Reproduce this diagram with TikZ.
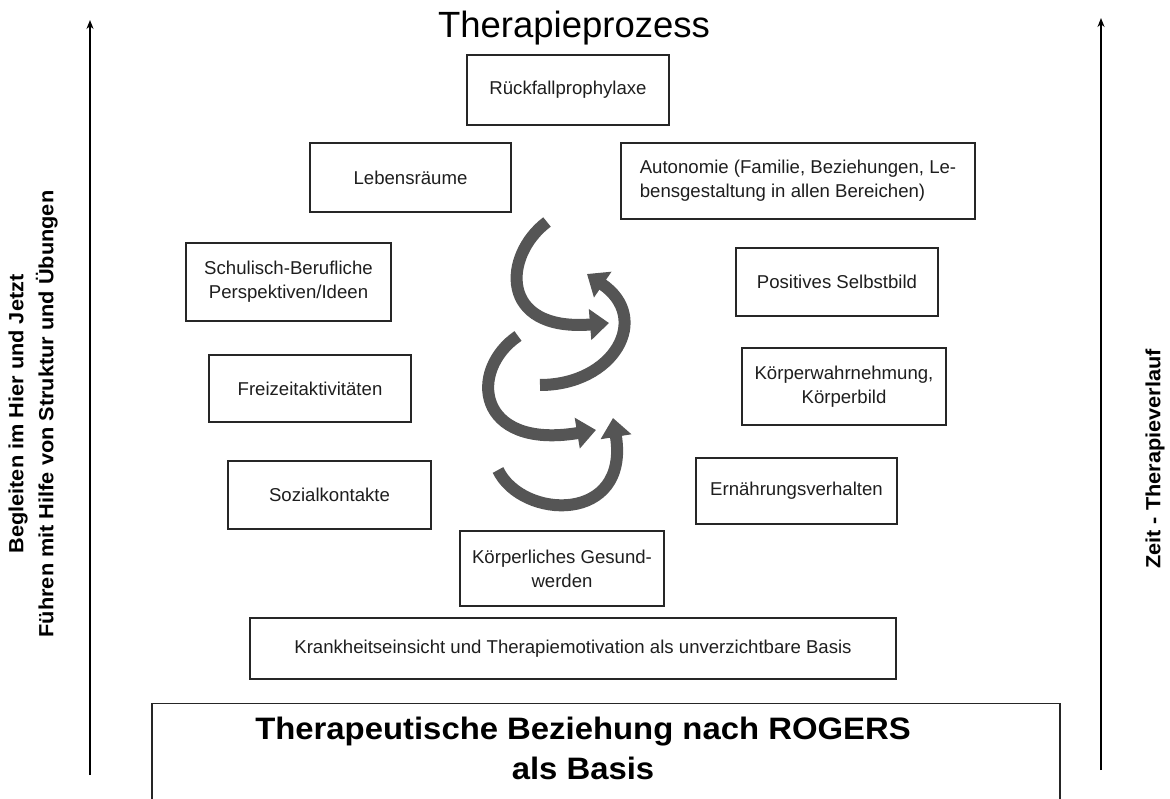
\documentclass[tikz,border=0pt]{standalone}
\usepackage{fontspec}
\setmainfont{Liberation Sans}
\newfontfamily\widesans[FakeStretch=1.06]{Liberation Sans}
\usetikzlibrary{arrows.meta}
\definecolor{spiralgray}{HTML}{555555}
\definecolor{boxtext}{HTML}{1E1E1E}

\begin{document}
\begin{tikzpicture}[x=1pt, y=-1pt]
	\tikzstyle{stepbox}=[
	draw=black!85,
	line width=1.1pt,
	rectangle,
	text=boxtext,
	font=\fontsize{18.6}{24}\selectfont,
	align=center,
	inner sep=2pt
	]
	\tikzstyle{sidetext}=[
	rotate=90,
	align=center,
	font=\widesans\bfseries\fontsize{20.5}{30}\selectfont
	]
	\tikzstyle{timeline}=[
	line width=2pt,
	-{Stealth[length=9pt,width=7pt]}
	]
	\tikzstyle{spiralarrow}=[
	draw=spiralgray,
	line width=12pt,
	-{Triangle[length=19pt,width=30pt]}
	]
	\useasboundingbox (0,0) rectangle (1170,799);
	\clip (0,0) rectangle (1170,799);
	%
	\node[font=\fontsize{36.5}{40}\selectfont] (title) at (574,28) {Therapieprozess};
	%
	\node[stepbox, minimum width=202pt, minimum height=70pt] (rueck) at (568,90) {R\"uckfallprophylaxe};
	\node[stepbox, minimum width=201pt, minimum height=69pt] (leben) at (410.5,177.5) {Lebensr\"aume};
	\node[stepbox, minimum width=354pt, minimum height=76pt, align=left] (auto) at (798,181) {Autonomie (Familie, Beziehungen, Le-\\bensgestaltung in allen Bereichen)};
	\node[stepbox, minimum width=205pt, minimum height=78pt] (schul) at (288.5,282) {Schulisch-Berufliche\\Perspektiven/Ideen};
	\node[stepbox, minimum width=202pt, minimum height=68pt] (selbst) at (837,282) {Positives Selbstbild};
	\node[stepbox, minimum width=202pt, minimum height=67pt] (frei) at (310,388.5) {Freizeitaktivit\"aten};
	\node[stepbox, minimum width=204pt, minimum height=77pt] (koerper) at (844,386.5) {K\"orperwahrnehmung,\\K\"orperbild};
	\node[stepbox, minimum width=203pt, minimum height=68pt] (sozial) at (329.5,495) {Sozialkontakte};
	\node[stepbox, minimum width=201pt, minimum height=66pt] (ernaehr) at (796.5,491) {Ern\"ahrungsverhalten};
	\node[stepbox, minimum width=204pt, minimum height=75pt] (gesund) at (562,568.5) {K\"orperliches Gesund-\\werden};
	\node[stepbox, minimum width=646pt, minimum height=61pt] (krank) at (573,648.5) {Krankheitseinsicht und Therapiemotivation als unverzichtbare Basis};
	%
	\node[stepbox, minimum width=908pt, minimum height=120pt, anchor=north] (basis) at (606,703) {};
	\node[font=\widesans\bfseries\fontsize{31}{40}\selectfont, align=center] (basistext) at (583,748) {Therapeutische Beziehung nach ROGERS\\als Basis};
	%
	\node[sidetext] (begleiten) at (33,414) {Begleiten im Hier und Jetzt\\F\"uhren mit Hilfe von Struktur und \"Ubungen};
	\node[sidetext] (zeit) at (1155,459) {Zeit - Therapieverlauf};
	\coordinate (leftlow) at (90,775);
	\coordinate (lefttop) at (90,20);
	\coordinate (rightlow) at (1101,770);
	\coordinate (righttop) at (1101,18);
	\draw[timeline] (leftlow) -- (lefttop);
	\draw[timeline] (rightlow) -- (righttop);
	%
	\draw[spiralarrow] (547,222) .. controls (503,255) and (498,332) .. (609,323);
	\draw[spiralarrow] (540,385) .. controls (614,385) and (652,318) .. (587,274);
	\draw[spiralarrow] (518,336) .. controls (468,370) and (476,450) .. (596,430);
	\draw[spiralarrow] (498,470) .. controls (522,520) and (630,524) .. (613,418);
\end{tikzpicture}
\end{document}
